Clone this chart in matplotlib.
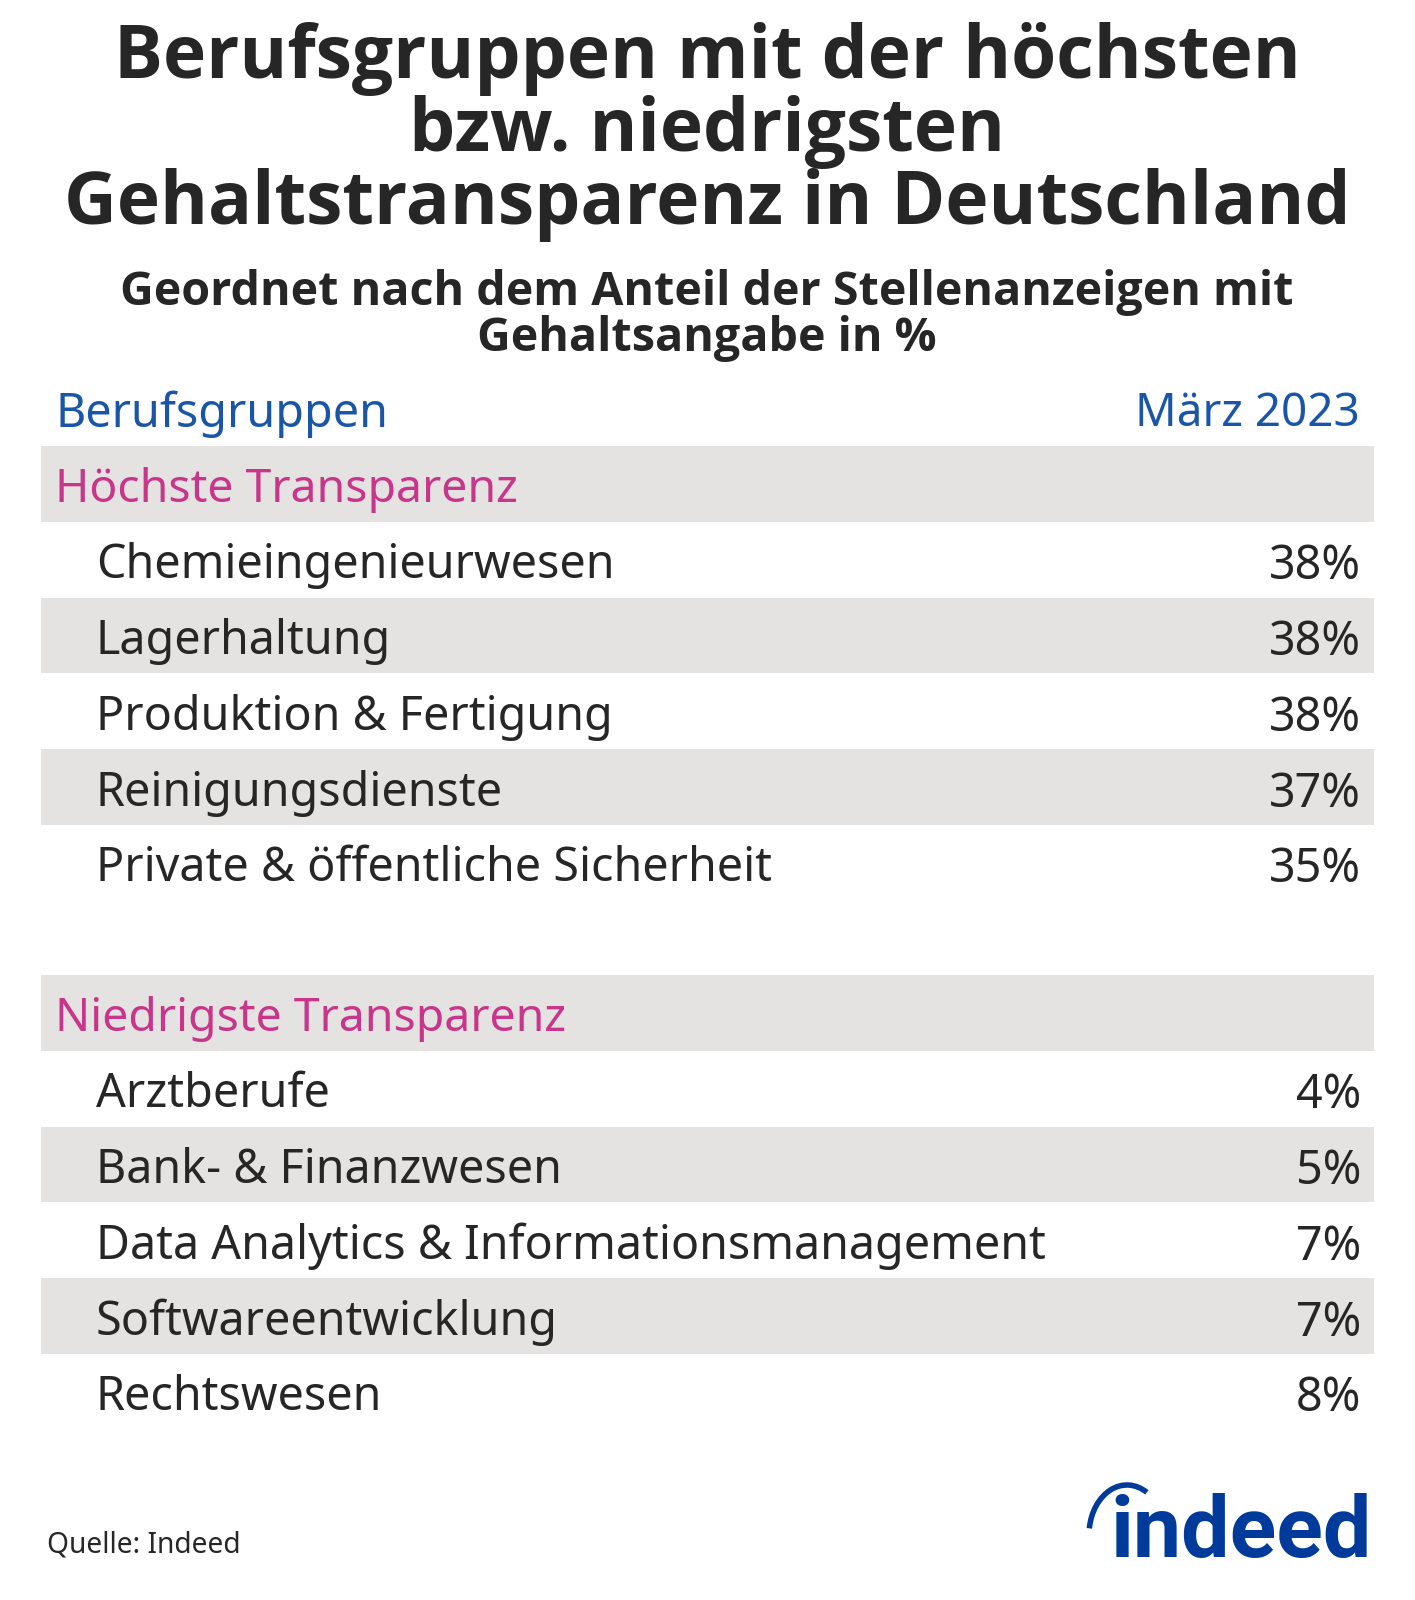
import matplotlib
matplotlib.use("Agg")
import matplotlib.pyplot as plt
from matplotlib.patches import Arc, Rectangle

plt.rcParams['font.family'] = ['Noto Sans', 'DejaVu Sans']

# -------------------------
# Data
# -------------------------
title_lines = ["Berufsgruppen mit der höchsten", "bzw. niedrigsten", "Gehaltstransparenz in Deutschland"]
subtitle_lines = ["Geordnet nach dem Anteil der Stellenanzeigen mit", "Gehaltsangabe in %"]
col_left = "Berufsgruppen"
col_right = "März 2023"

group_high = "Höchste Transparenz"
jobs_high = ["Chemieingenieurwesen", "Lagerhaltung", "Produktion & Fertigung",
             "Reinigungsdienste", "Private & öffentliche Sicherheit"]
vals_high = [38, 38, 38, 37, 35]

group_low = "Niedrigste Transparenz"
jobs_low = ["Arztberufe", "Bank- & Finanzwesen", "Data Analytics & Informationsmanagement",
            "Softwareentwicklung", "Rechtswesen"]
vals_low = [4, 5, 7, 7, 8]

source = "Quelle: Indeed"

BLUE = "#1A56A8"
PINK = "#C8358A"
DARK = "#262626"
GREY = "#E4E3E2"
LOGO = "#003A9B"

# -------------------------
# Plot
# -------------------------
fig = plt.figure(figsize=(14.15, 16), dpi=100)
ax = fig.add_axes([0, 0, 1, 1])
ax.set_xlim(0, 1415)
ax.set_ylim(1600, 0)
ax.axis("off")

CX = 707
BOLD = ["Open Sans", "Noto Sans"]
for y, line in zip([59, 132, 205], title_lines):
    ax.text(CX, y, line, ha="center", va="center", fontsize=52.6, fontweight="bold",
            color=DARK, family=BOLD)
for y, line in zip([292, 338], subtitle_lines):
    ax.text(CX, y, line, ha="center", va="center", fontsize=33.6, fontweight="bold",
            color=DARK, family=BOLD)

FS = 33.6
ax.text(55, 414, col_left, ha="left", va="center", fontsize=FS, color=BLUE)
ax.text(1360, 414, col_right, ha="right", va="center", fontsize=33, color=BLUE)

ROW = 75.8
L, R = 41, 1374


def draw_block(top, group, jobs, vals):
    ax.add_patch(Rectangle((L, top), R - L, ROW, color=GREY, lw=0))
    ax.text(55, top + ROW / 2 + 6, group, ha="left", va="center", fontsize=33.4, color=PINK)
    for i, (job, val) in enumerate(zip(jobs, vals), start=1):
        y = top + i * ROW
        if i % 2 == 0:
            ax.add_patch(Rectangle((L, y), R - L, ROW, color=GREY, lw=0))
        ax.text(96, y + ROW / 2 + 6, job, ha="left", va="center", fontsize=FS, color=DARK)
        ax.text(1361, y + ROW / 2 + 7, f"{val}%", ha="right", va="center", fontsize=FS, color=DARK)


draw_block(446, group_high, jobs_high, vals_high)
draw_block(975, group_low, jobs_low, vals_low)

ax.text(47, 1545, source, ha="left", va="center", fontsize=20.3, color=DARK)

# logo: wordmark plus the arc over the i
ax.text(1372, 1534, "indeed", ha="right", va="center", fontsize=62, fontweight="bold",
        color=LOGO, family=["Roboto", "Noto Sans"])
ax.add_patch(Arc((1127, 1535), 76, 100, theta1=190, theta2=295, color=LOGO, lw=4))

fig.savefig("out.png", dpi=100)
